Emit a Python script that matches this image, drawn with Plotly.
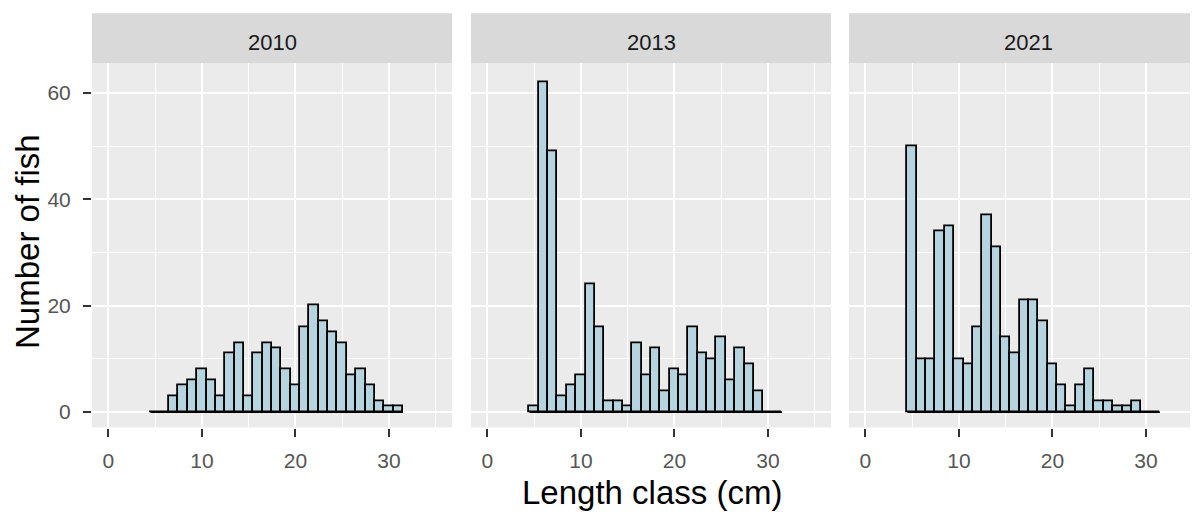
import plotly.graph_objects as go

# ---- data ----
years = ["2010", "2013", "2021"]
length_classes = list(range(5, 32))  # bin centres (cm), binwidth 1
counts_2010 = [0, 0, 3, 5, 6, 8, 6, 3, 11, 13, 3, 11, 13, 12, 8, 5, 16, 20, 17, 15, 13, 7, 8, 5, 2, 1, 1]
counts_2013 = [1, 62, 49, 3, 5, 7, 24, 16, 2, 2, 1, 13, 7, 12, 4, 8, 7, 16, 11, 10, 14, 6, 12, 9, 4, 0, 0]
counts_2021 = [50, 10, 10, 34, 35, 10, 9, 16, 37, 31, 14, 11, 21, 21, 17, 9, 5, 1, 5, 8, 2, 2, 1, 1, 2, 0, 0]
series = [counts_2010, counts_2013, counts_2021]
x_ticks = [0, 10, 20, 30]
y_ticks = [0, 20, 40, 60]

# page body has an 8px margin; work in window pixels and convert
OFF = 8
W, H = 1198 - OFF, 513 - OFF
FONT = "Liberation Sans, Arial, sans-serif"

def px_x(p):
    return (p - OFF) / W

def px_y(p):
    return (H - (p - OFF)) / H

panel_px = [(92, 452), (471, 831), (849, 1198)]
panel_top, panel_bot = 63.3, 427.5
strip_top = 13.3
x_range_full = [-1.75, 36.75]
units_per_px = (x_range_full[1] - x_range_full[0]) / 360.0

fig = go.Figure()

for i, (yr, counts) in enumerate(zip(years, series)):
    ax = "" if i == 0 else str(i + 1)
    fig.add_trace(go.Bar(
        x=length_classes, y=counts, width=1,
        marker=dict(color="#b5d4df", line=dict(color="black", width=1.8)),
        xaxis="x" + ax, yaxis="y" + ax, showlegend=False,
    ))
    lo = min(length_classes) - 0.5
    hi = max(length_classes) + 0.5
    fig.add_trace(go.Scatter(
        x=[lo, hi], y=[0, 0], mode="lines",
        line=dict(color="black", width=1.8),
        xaxis="x" + ax, yaxis="y" + ax, showlegend=False, hoverinfo="skip",
    ))

layout = dict(
    width=W, height=H,
    margin=dict(l=0, r=0, t=0, b=0),
    paper_bgcolor="white", plot_bgcolor="#EBEBEB",
    bargap=0, font=dict(family=FONT),
    shapes=[], annotations=[],
)

for i, (l, r) in enumerate(panel_px):
    ax = "" if i == 0 else str(i + 1)
    xr = [x_range_full[0], x_range_full[0] + (r - l) * units_per_px]
    layout["xaxis" + ax] = dict(
        domain=[max(0, px_x(l)), min(1, px_x(r))], range=xr, anchor="y" + ax,
        tickmode="array", tickvals=x_ticks, ticktext=[str(v) for v in x_ticks],
        showgrid=True, gridcolor="white", gridwidth=2,
        minor=dict(tickmode="array", tickvals=[5, 15, 25, 35], showgrid=True,
                   gridcolor="white", gridwidth=1, ticks=""),
        zeroline=False, showline=False,
        ticks="outside", ticklen=8, tickwidth=1.5, tickcolor="#333333",
        ticklabelstandoff=6,
        tickfont=dict(size=21, color="#555555", family=FONT),
        fixedrange=True,
    )
    layout["yaxis" + ax] = dict(
        domain=[px_y(panel_bot), px_y(panel_top)], range=[-2.9, 65.6],
        anchor="x" + ax,
        tickmode="array", tickvals=y_ticks, ticktext=[str(v) for v in y_ticks],
        showticklabels=(i == 0),
        ticks="outside" if i == 0 else "", ticklen=8, tickwidth=1.5, tickcolor="#333333",
        ticklabelstandoff=8,
        showgrid=True, gridcolor="white", gridwidth=2,
        minor=dict(tickmode="array", tickvals=[10, 30, 50], showgrid=True,
                   gridcolor="white", gridwidth=1, ticks=""),
        zeroline=False, showline=False,
        tickfont=dict(size=21, color="#555555", family=FONT),
        fixedrange=True,
    )
    # facet strip
    layout["shapes"].append(dict(
        type="rect", xref="paper", yref="paper",
        x0=max(0, px_x(l)), x1=min(1, px_x(r)), y0=px_y(panel_top), y1=px_y(strip_top),
        fillcolor="#D9D9D9", line=dict(width=0), layer="below",
    ))
    layout["annotations"].append(dict(
        text=years[i], xref="paper", yref="paper",
        x=px_x(l + 180), y=px_y(43), xanchor="center", yanchor="middle",
        showarrow=False, font=dict(size=22, color="#1A1A1A", family=FONT),
    ))

layout["annotations"].append(dict(
    text="Length class (cm)", xref="paper", yref="paper",
    x=px_x(652), y=px_y(492), xanchor="center", yanchor="middle",
    showarrow=False, font=dict(size=33, color="black", family=FONT),
))
layout["annotations"].append(dict(
    text="Number of fish", xref="paper", yref="paper",
    x=px_x(28), y=px_y(242), xanchor="center", yanchor="middle", textangle=-90,
    showarrow=False, font=dict(size=33, color="black", family=FONT),
))

fig.update_layout(**layout)
fig.write_html("out.html")
